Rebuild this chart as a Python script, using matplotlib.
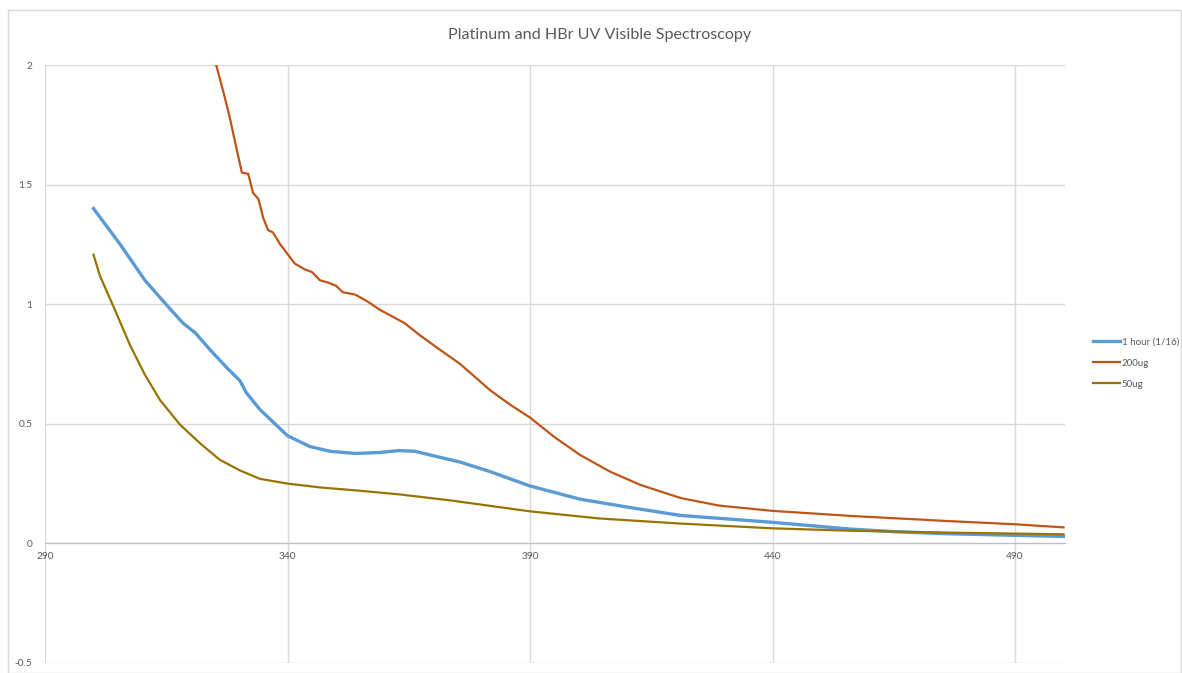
import matplotlib
matplotlib.use("Agg")
import matplotlib.pyplot as plt
from matplotlib.patches import Rectangle

# wavelength (nm) / absorbance
hour_x = [300, 305.5, 310.6, 315.8, 318.5, 321, 324, 327.7, 330.2, 331.5, 334.3, 337.4, 340,
          344.6, 348.8, 354, 359, 363, 366.3, 371.4, 375.6, 381.8, 390, 400.3, 410.6, 421,
          440, 456, 466, 476.6, 500]
hour_y = [1.40, 1.25, 1.10, 0.98, 0.92, 0.88, 0.81, 0.73, 0.68, 0.63, 0.56, 0.50, 0.45,
          0.405, 0.385, 0.376, 0.38, 0.388, 0.385, 0.36, 0.34, 0.30, 0.24, 0.185, 0.15, 0.117,
          0.088, 0.06, 0.048, 0.04, 0.029]

ug200_x = [323.6, 325.3, 327, 328.1, 329.6, 330.6, 331.9, 332.9, 334, 335, 336, 337, 338.5,
           340, 341.5, 343.6, 345, 346.7, 348.4, 350, 351.4, 354, 356.6, 359, 361.5, 364.2,
           367.3, 371.4, 375.6, 381.8, 385.9, 390, 395, 400.3, 406.5, 412.7, 421, 429, 440,
           456, 476.6, 490, 500]
ug200_y = [2.15, 2.0, 1.87, 1.78, 1.64, 1.55, 1.545, 1.465, 1.44, 1.36, 1.31, 1.30, 1.25,
           1.21, 1.17, 1.145, 1.135, 1.10, 1.09, 1.077, 1.05, 1.04, 1.01, 0.977, 0.95, 0.92,
           0.87, 0.81, 0.75, 0.64, 0.58, 0.526, 0.445, 0.37, 0.30, 0.245, 0.19, 0.158, 0.136,
           0.115, 0.093, 0.08, 0.067]

ug50_x = [300, 301.3, 304.4, 307.5, 310.6, 313.7, 317.8, 322, 326, 330.2, 334.3, 340,
          346.7, 355, 363, 373.5, 390, 404.4, 421, 440, 456, 476.6, 500]
ug50_y = [1.207, 1.12, 0.977, 0.83, 0.705, 0.60, 0.497, 0.418, 0.35, 0.305, 0.27, 0.25,
          0.234, 0.22, 0.205, 0.18, 0.134, 0.104, 0.083, 0.063, 0.053, 0.045, 0.038]

x_ticks = [290, 340, 390, 440, 490]
y_ticks = [-0.5, 0, 0.5, 1, 1.5, 2]
y_labels = ["-0.5", "0", "0.5", "1", "1.5", "2"]

plt.rcParams['font.family'] = ['Lato', 'DejaVu Sans']

fig = plt.figure(figsize=(11.82, 6.73), dpi=100)
ax = fig.add_axes([45 / 1182, 10 / 673, 1020 / 1182, 598 / 673])

ax.plot(hour_x, hour_y, color='#5B9BD5', lw=2.4, label='1 hour (1/16)')
ax.plot(ug200_x, ug200_y, color='#BF5418', lw=1.6, label='200ug')
ax.plot(ug50_x, ug50_y, color='#997300', lw=1.6, label='50ug')

ax.set_xlim(290, 500.3)
ax.set_ylim(-0.5, 2)
ax.set_xticks(x_ticks)
ax.set_yticks(y_ticks)
ax.set_yticklabels(y_labels)
ax.grid(True, color='#D9D9D9', lw=1)
ax.set_axisbelow(True)

for s in ['top', 'right', 'left']:
    ax.spines[s].set_visible(False)
ax.spines['bottom'].set_position(('data', 0))
ax.spines['bottom'].set_color('#BFBFBF')
ax.tick_params(axis='both', length=0, labelsize=7.3, labelcolor='#595959')
ax.tick_params(axis='x', pad=6)
ax.tick_params(axis='y', pad=9)

fig.text(600 / 1182, 1 - 35 / 673, 'Platinum and HBr UV Visible Spectroscopy',
         ha='center', va='center', fontsize=11.6, color='#595959')

ax.legend(loc='center left', bbox_to_anchor=(1084 / 1182, 1 - 363 / 673),
          bbox_transform=fig.transFigure, frameon=False, fontsize=7,
          handlelength=2.8, handletextpad=0.2, labelspacing=1.25,
          labelcolor='#595959')

fig.patches.append(Rectangle((8 / 1182, 0), 1 - 9 / 1182, 1 - 10 / 673,
                             transform=fig.transFigure, fill=False,
                             edgecolor='#D9D9D9', lw=1))

fig.savefig('out.png', dpi=100)
